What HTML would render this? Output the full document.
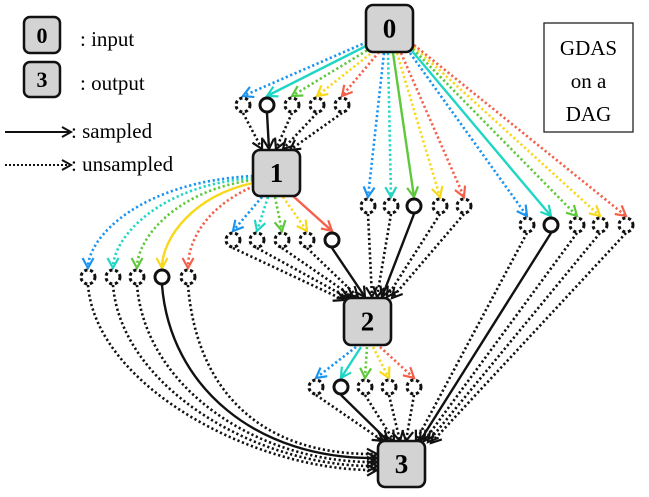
<!DOCTYPE html>
<html><head><meta charset="utf-8"><style>
html,body{margin:0;padding:0;background:#fff;}
svg{display:block;}
text{font-family:"Liberation Serif",serif;}
</style></head><body>
<svg id="s" width="649" height="497" viewBox="0 0 649 497" xmlns="http://www.w3.org/2000/svg">
<g id="edges"></g>
<g id="circ"></g>
<g id="nodes"></g>
<!-- legend -->
<rect x="24" y="17" width="36" height="36" rx="6" fill="#d3d3d3" stroke="#111" stroke-width="2.5"/>
<text x="42" y="43" font-size="22" font-weight="bold" text-anchor="middle">0</text>
<rect x="24" y="62" width="36" height="35" rx="6" fill="#d3d3d3" stroke="#111" stroke-width="2.5"/>
<text x="42" y="87" font-size="22" font-weight="bold" text-anchor="middle">3</text>
<text x="80" y="46" font-size="21">: input</text>
<text x="80" y="90" font-size="21">: output</text>
<line x1="5" y1="132" x2="70" y2="132" stroke="#111" stroke-width="2"/>
<path d="M62,127 L71,132 L62,137" fill="none" stroke="#111" stroke-width="2"/>
<line x1="5" y1="165" x2="70" y2="165" stroke="#111" stroke-width="2" stroke-dasharray="2 2"/>
<path d="M62,160 L71,165 L62,170" fill="none" stroke="#111" stroke-width="2"/>
<text x="71" y="138" font-size="21">: sampled</text>
<text x="71" y="171" font-size="21">: unsampled</text>
<rect x="544" y="23" width="89" height="109" fill="#fff" stroke="#222" stroke-width="1.3"/>
<text x="588.5" y="55" font-size="21" text-anchor="middle">GDAS</text>
<text x="588.5" y="88" font-size="21" text-anchor="middle">on a</text>
<text x="588.5" y="121" font-size="21" text-anchor="middle">DAG</text>
</svg>
<script>
const NS="http://www.w3.org/2000/svg";
const E=document.getElementById('edges'),C=document.getElementById('circ'),N=document.getElementById('nodes');
const col=['#1a94f0','#1fd6c4','#5dc93a','#f7d81a','#f4604a'];
function el(p,t,a){const e=document.createElementNS(NS,t);for(const k in a)e.setAttribute(k,a[k]);p.appendChild(e);return e;}
function edge(x1,y1,x2,y2,color,solid,cx1,cy1,cx2,cy2){
  let d,dx,dy;
  if(cx1!==undefined){d=`M${x1},${y1} C${cx1},${cy1} ${cx2},${cy2} ${x2},${y2}`;dx=x2-cx2;dy=y2-cy2;}
  else{d=`M${x1},${y1} L${x2},${y2}`;dx=x2-x1;dy=y2-y1;}
  const w=solid?2.4:2.6;
  const a={d:d,fill:'none',stroke:color,'stroke-width':w};
  if(!solid)a['stroke-dasharray']='2.2 2.6';
  el(E,'path',a);
  const L=Math.hypot(dx,dy),ux=dx/L,uy=dy/L,h=10,s=0.5;
  const bx=x2-ux*h,by=y2-uy*h,px=-uy*h*s*1.1,py=ux*h*s*1.1;
  el(E,'path',{d:`M${bx+px},${by+py} L${x2},${y2} L${bx-px},${by-py}`,fill:'none',stroke:color,'stroke-width':2.2});
}
function group(xs,cy,starts,samp,targets,curve){
  xs.forEach((x,i)=>{
    const [sx,sy,qx,qy]=starts[i];
    const s=i===samp;
    if(qx!==undefined) edge(sx,sy,x,cy-9,col[i],s,qx,qy,x,cy-40);
    else edge(sx,sy,x,cy-9,col[i],s);
    const [tx,ty]=targets[i];
    if(curve) edge(x,cy+8,tx,ty,'#111',s,x+8,cy+110,tx-120,ty+2);
    else edge(x,cy+8,tx,ty,'#111',s);
    const c={cx:x,cy:cy,r:7,fill:'#fff',stroke:'#111','stroke-width':3};
    if(!s)c['stroke-dasharray']='3.2 2.6';
    el(C,'circle',c);
  });
}
group([243,267,292,317,342],105,[[367,42],[368,45],[371,48],[374,51],[379,52]],1,
 [[262,149],[269,149],[276,149],[283,149],[290,150]]);
group([368,391,414,440,464],206,[[384,53],[388,53],[393,53],[397,53],[401,53]],2,
 [[372,297],[377,297],[382,297],[387,297],[392,298]]);
group([527,551,577,600,626],225,[[410,53],[412,51],[413,49],[414,47],[414,45]],1,
 [[416,441],[420,441],[424,441],[428,442],[431,443]]);
group([233,257,282,307,332],240,[[262,197],[268,197],[275,197],[283,197],[293,196]],4,
 [[344,300],[348,298],[353,297],[358,297],[365,297]]);
group([88,113,137,162,188],277,[[253,176,140,182],[253,178,160,185],[253,180,178,190],[253,183,195,195],[254,186,210,205]],3,
 [[377,470],[377,466],[377,462],[377,458],[377,454]],true);
group([316,341,365,389,414],387,[[356,347],[361,347],[367,347],[373,347],[380,347]],1,
 [[383,441],[388,441],[394,441],[400,441],[406,441]]);
function node(x,y,w,h,t){
  el(N,'rect',{x:x,y:y,width:w,height:h,rx:7,fill:'#d3d3d3',stroke:'#111','stroke-width':2.6});
  const tt=el(N,'text',{x:x+w/2,y:y+h/2+9,'font-size':27,'font-weight':'bold','text-anchor':'middle'});tt.textContent=t;
}
node(366,5,47,47,'0');node(253,150,47,46,'1');node(344,298,47,47,'2');node(378,441,47,46,'3');
</script>
</body></html>
